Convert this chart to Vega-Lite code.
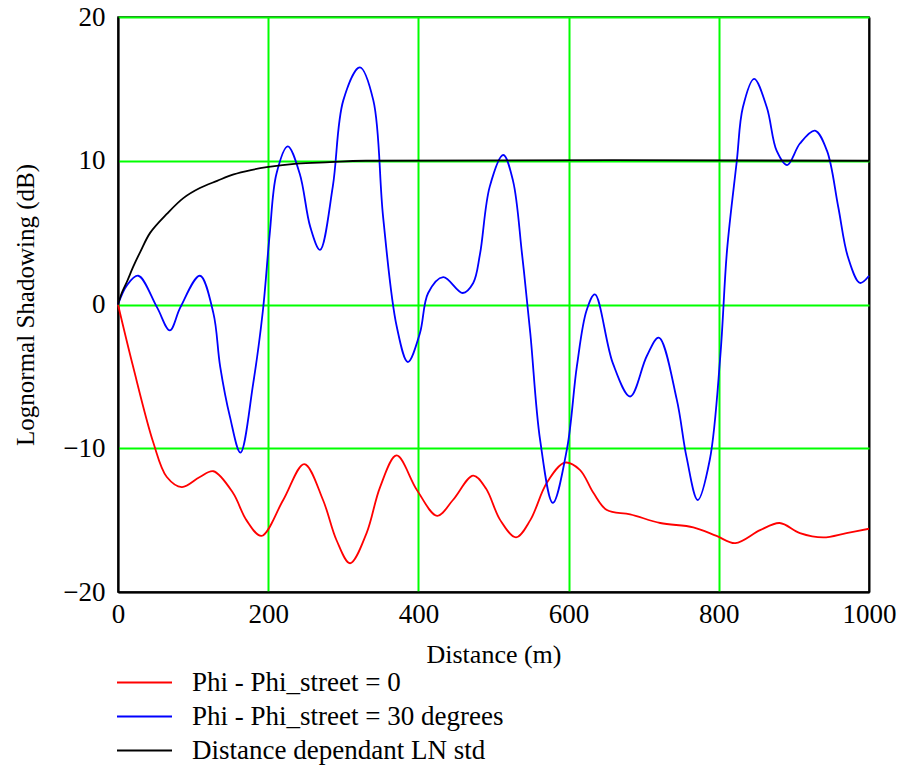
{
  "$schema": "https://vega.github.io/schema/vega-lite/v6.json",
  "width": 751,
  "height": 575,
  "autosize": "none",
  "padding": {"left": 118, "top": 17, "right": 30, "bottom": 176},
  "background": "white",
  "config": {
    "font": "Liberation Serif",
    "view": {"stroke": "black", "strokeWidth": 1.5},
    "axis": {"labelFont": "Liberation Serif", "titleFont": "Liberation Serif", "labelColor": "black", "titleColor": "black", "titleFontWeight": "normal", "labelFontSize": 27, "titleFontSize": 26, "ticks": false, "tickSize": 0, "domainColor": "black", "domainWidth": 1.5, "gridWidth": 2}
  },
  "data": {"values": [
    {"d": 0, "v": 0, "s": "Phi - Phi_street = 0"},
    {"d": 20, "v": -4.3, "s": "Phi - Phi_street = 0"},
    {"d": 47, "v": -9.6, "s": "Phi - Phi_street = 0"},
    {"d": 65, "v": -12.0, "s": "Phi - Phi_street = 0"},
    {"d": 85, "v": -12.7, "s": "Phi - Phi_street = 0"},
    {"d": 109, "v": -12.0, "s": "Phi - Phi_street = 0"},
    {"d": 127, "v": -11.6, "s": "Phi - Phi_street = 0"},
    {"d": 153, "v": -13.1, "s": "Phi - Phi_street = 0"},
    {"d": 171, "v": -15.0, "s": "Phi - Phi_street = 0"},
    {"d": 191, "v": -16.1, "s": "Phi - Phi_street = 0"},
    {"d": 220, "v": -13.6, "s": "Phi - Phi_street = 0"},
    {"d": 248, "v": -11.1, "s": "Phi - Phi_street = 0"},
    {"d": 273, "v": -13.6, "s": "Phi - Phi_street = 0"},
    {"d": 291, "v": -16.4, "s": "Phi - Phi_street = 0"},
    {"d": 309, "v": -18.0, "s": "Phi - Phi_street = 0"},
    {"d": 331, "v": -15.9, "s": "Phi - Phi_street = 0"},
    {"d": 349, "v": -12.7, "s": "Phi - Phi_street = 0"},
    {"d": 371, "v": -10.5, "s": "Phi - Phi_street = 0"},
    {"d": 398, "v": -12.9, "s": "Phi - Phi_street = 0"},
    {"d": 425, "v": -14.7, "s": "Phi - Phi_street = 0"},
    {"d": 446, "v": -13.6, "s": "Phi - Phi_street = 0"},
    {"d": 473, "v": -11.9, "s": "Phi - Phi_street = 0"},
    {"d": 490, "v": -12.8, "s": "Phi - Phi_street = 0"},
    {"d": 509, "v": -15.0, "s": "Phi - Phi_street = 0"},
    {"d": 530, "v": -16.2, "s": "Phi - Phi_street = 0"},
    {"d": 549, "v": -15.0, "s": "Phi - Phi_street = 0"},
    {"d": 571, "v": -12.4, "s": "Phi - Phi_street = 0"},
    {"d": 595, "v": -11.0, "s": "Phi - Phi_street = 0"},
    {"d": 615, "v": -11.5, "s": "Phi - Phi_street = 0"},
    {"d": 633, "v": -13.1, "s": "Phi - Phi_street = 0"},
    {"d": 651, "v": -14.3, "s": "Phi - Phi_street = 0"},
    {"d": 682, "v": -14.6, "s": "Phi - Phi_street = 0"},
    {"d": 722, "v": -15.2, "s": "Phi - Phi_street = 0"},
    {"d": 766, "v": -15.5, "s": "Phi - Phi_street = 0"},
    {"d": 797, "v": -16.1, "s": "Phi - Phi_street = 0"},
    {"d": 822, "v": -16.6, "s": "Phi - Phi_street = 0"},
    {"d": 855, "v": -15.7, "s": "Phi - Phi_street = 0"},
    {"d": 881, "v": -15.2, "s": "Phi - Phi_street = 0"},
    {"d": 908, "v": -15.9, "s": "Phi - Phi_street = 0"},
    {"d": 939, "v": -16.2, "s": "Phi - Phi_street = 0"},
    {"d": 970, "v": -15.9, "s": "Phi - Phi_street = 0"},
    {"d": 1000, "v": -15.6, "s": "Phi - Phi_street = 0"},

    {"d": 0, "v": 0, "s": "Phi - Phi_street = 30 degrees"},
    {"d": 12, "v": 1.35, "s": "Phi - Phi_street = 30 degrees"},
    {"d": 27, "v": 2.0, "s": "Phi - Phi_street = 30 degrees"},
    {"d": 52, "v": -0.2, "s": "Phi - Phi_street = 30 degrees"},
    {"d": 69, "v": -1.8, "s": "Phi - Phi_street = 30 degrees"},
    {"d": 83, "v": -0.2, "s": "Phi - Phi_street = 30 degrees"},
    {"d": 109, "v": 2.0, "s": "Phi - Phi_street = 30 degrees"},
    {"d": 127, "v": -0.6, "s": "Phi - Phi_street = 30 degrees"},
    {"d": 136, "v": -4.3, "s": "Phi - Phi_street = 30 degrees"},
    {"d": 149, "v": -7.8, "s": "Phi - Phi_street = 30 degrees"},
    {"d": 163, "v": -10.3, "s": "Phi - Phi_street = 30 degrees"},
    {"d": 180, "v": -5.5, "s": "Phi - Phi_street = 30 degrees"},
    {"d": 193, "v": -0.4, "s": "Phi - Phi_street = 30 degrees"},
    {"d": 202, "v": 4.9, "s": "Phi - Phi_street = 30 degrees"},
    {"d": 211, "v": 9.1, "s": "Phi - Phi_street = 30 degrees"},
    {"d": 226, "v": 11.0, "s": "Phi - Phi_street = 30 degrees"},
    {"d": 242, "v": 9.1, "s": "Phi - Phi_street = 30 degrees"},
    {"d": 256, "v": 5.4, "s": "Phi - Phi_street = 30 degrees"},
    {"d": 269, "v": 3.8, "s": "Phi - Phi_street = 30 degrees"},
    {"d": 286, "v": 8.2, "s": "Phi - Phi_street = 30 degrees"},
    {"d": 300, "v": 14.2, "s": "Phi - Phi_street = 30 degrees"},
    {"d": 322, "v": 16.5, "s": "Phi - Phi_street = 30 degrees"},
    {"d": 340, "v": 14.2, "s": "Phi - Phi_street = 30 degrees"},
    {"d": 353, "v": 6.1, "s": "Phi - Phi_street = 30 degrees"},
    {"d": 371, "v": -1.5, "s": "Phi - Phi_street = 30 degrees"},
    {"d": 386, "v": -4.0, "s": "Phi - Phi_street = 30 degrees"},
    {"d": 402, "v": -2.0, "s": "Phi - Phi_street = 30 degrees"},
    {"d": 413, "v": 0.8, "s": "Phi - Phi_street = 30 degrees"},
    {"d": 433, "v": 1.9, "s": "Phi - Phi_street = 30 degrees"},
    {"d": 459, "v": 0.8, "s": "Phi - Phi_street = 30 degrees"},
    {"d": 473, "v": 1.5, "s": "Phi - Phi_street = 30 degrees"},
    {"d": 482, "v": 3.5, "s": "Phi - Phi_street = 30 degrees"},
    {"d": 495, "v": 8.2, "s": "Phi - Phi_street = 30 degrees"},
    {"d": 513, "v": 10.4, "s": "Phi - Phi_street = 30 degrees"},
    {"d": 526, "v": 8.6, "s": "Phi - Phi_street = 30 degrees"},
    {"d": 538, "v": 3.5, "s": "Phi - Phi_street = 30 degrees"},
    {"d": 549, "v": -2.0, "s": "Phi - Phi_street = 30 degrees"},
    {"d": 562, "v": -9.4, "s": "Phi - Phi_street = 30 degrees"},
    {"d": 579, "v": -13.8, "s": "Phi - Phi_street = 30 degrees"},
    {"d": 598, "v": -10.0, "s": "Phi - Phi_street = 30 degrees"},
    {"d": 611, "v": -4.3, "s": "Phi - Phi_street = 30 degrees"},
    {"d": 624, "v": -0.4, "s": "Phi - Phi_street = 30 degrees"},
    {"d": 635, "v": 0.7, "s": "Phi - Phi_street = 30 degrees"},
    {"d": 659, "v": -4.1, "s": "Phi - Phi_street = 30 degrees"},
    {"d": 682, "v": -6.4, "s": "Phi - Phi_street = 30 degrees"},
    {"d": 704, "v": -3.6, "s": "Phi - Phi_street = 30 degrees"},
    {"d": 720, "v": -2.3, "s": "Phi - Phi_street = 30 degrees"},
    {"d": 744, "v": -6.6, "s": "Phi - Phi_street = 30 degrees"},
    {"d": 757, "v": -10.6, "s": "Phi - Phi_street = 30 degrees"},
    {"d": 772, "v": -13.6, "s": "Phi - Phi_street = 30 degrees"},
    {"d": 788, "v": -10.8, "s": "Phi - Phi_street = 30 degrees"},
    {"d": 802, "v": -3.6, "s": "Phi - Phi_street = 30 degrees"},
    {"d": 811, "v": 3.8, "s": "Phi - Phi_street = 30 degrees"},
    {"d": 824, "v": 10.0, "s": "Phi - Phi_street = 30 degrees"},
    {"d": 832, "v": 13.7, "s": "Phi - Phi_street = 30 degrees"},
    {"d": 847, "v": 15.7, "s": "Phi - Phi_street = 30 degrees"},
    {"d": 864, "v": 13.7, "s": "Phi - Phi_street = 30 degrees"},
    {"d": 877, "v": 10.7, "s": "Phi - Phi_street = 30 degrees"},
    {"d": 891, "v": 9.7, "s": "Phi - Phi_street = 30 degrees"},
    {"d": 908, "v": 11.2, "s": "Phi - Phi_street = 30 degrees"},
    {"d": 928, "v": 12.1, "s": "Phi - Phi_street = 30 degrees"},
    {"d": 944, "v": 10.7, "s": "Phi - Phi_street = 30 degrees"},
    {"d": 959, "v": 6.8, "s": "Phi - Phi_street = 30 degrees"},
    {"d": 972, "v": 3.3, "s": "Phi - Phi_street = 30 degrees"},
    {"d": 988, "v": 1.5, "s": "Phi - Phi_street = 30 degrees"},
    {"d": 1000, "v": 2.0, "s": "Phi - Phi_street = 30 degrees"},

    {"d": 0, "v": 0, "s": "Distance dependant LN std"},
    {"d": 5, "v": 0.8, "s": "Distance dependant LN std"},
    {"d": 12, "v": 1.6, "s": "Distance dependant LN std"},
    {"d": 20, "v": 2.6, "s": "Distance dependant LN std"},
    {"d": 30, "v": 3.7, "s": "Distance dependant LN std"},
    {"d": 43, "v": 5.0, "s": "Distance dependant LN std"},
    {"d": 65, "v": 6.3, "s": "Distance dependant LN std"},
    {"d": 87, "v": 7.4, "s": "Distance dependant LN std"},
    {"d": 109, "v": 8.1, "s": "Distance dependant LN std"},
    {"d": 132, "v": 8.6, "s": "Distance dependant LN std"},
    {"d": 154, "v": 9.05, "s": "Distance dependant LN std"},
    {"d": 177, "v": 9.35, "s": "Distance dependant LN std"},
    {"d": 198, "v": 9.55, "s": "Distance dependant LN std"},
    {"d": 238, "v": 9.8, "s": "Distance dependant LN std"},
    {"d": 282, "v": 9.9, "s": "Distance dependant LN std"},
    {"d": 330, "v": 10.0, "s": "Distance dependant LN std"},
    {"d": 1000, "v": 10.0, "s": "Distance dependant LN std"}
  ]},
  "mark": {"type": "line", "interpolate": "catmull-rom", "strokeWidth": 1.8},
  "encoding": {
    "x": {"field": "d", "type": "quantitative", "title": "Distance (m)",
      "scale": {"domain": [0, 1000], "nice": false},
      "axis": {"values": [0, 200, 400, 600, 800, 1000], "format": "d", "labelPadding": 9, "titlePadding": 14, "labelFlush": false, "titleFontSize": 26,
        "gridColor": {"condition": {"test": "datum.value == 0 || datum.value == 1000", "value": "black"}, "value": "#00ff00"}}},
    "y": {"field": "v", "type": "quantitative", "title": "Lognormal Shadowing (dB)",
      "scale": {"domain": [-20, 20], "nice": false},
      "axis": {"values": [-20, -10, 0, 10, 20], "labelPadding": 13, "titlePadding": 24, "labelFlush": false, "format": "d", "titleFontSize": 25,
        "gridColor": {"condition": {"test": "datum.value == -20", "value": "black"}, "value": "#00ff00"}}},
    "color": {"field": "s", "type": "nominal", "sort": null,
      "scale": {"domain": ["Phi - Phi_street = 0", "Phi - Phi_street = 30 degrees", "Distance dependant LN std"], "range": ["#ff0000", "#0000ff", "#000000"]},
      "legend": {"title": null, "orient": "none", "legendX": 0, "legendY": 652, "padding": 0,
        "symbolType": "M-5,0H5", "symbolSize": 121, "symbolStrokeWidth": 2, "symbolOffset": 13,
        "labelOffset": 34, "labelFont": "Liberation Serif", "labelFontSize": 27, "labelColor": "black", "rowPadding": 6, "labelLimit": 600}}
  }
}
